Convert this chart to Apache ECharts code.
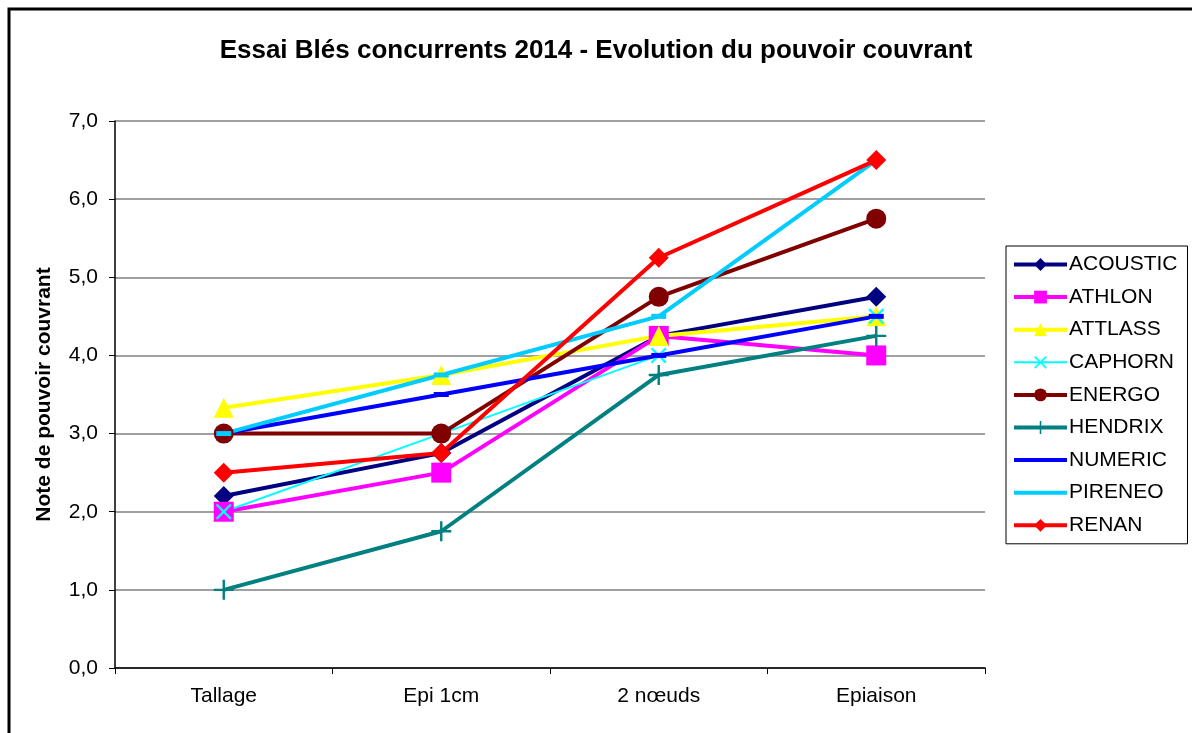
<!DOCTYPE html>
<html><head><meta charset="utf-8">
<script src="https://cdn.jsdelivr.net/npm/echarts@6/dist/echarts.min.js"></script>
<style>html,body{margin:0;padding:0;background:#fff}#c{width:1192px;height:733px}</style>
</head><body><div id="c"></div>
<script>
const categories = ['Tallage', 'Epi 1cm', '2 nœuds', 'Epiaison'];
const ACOUSTIC = [2.2, 2.75, 4.25, 4.75];
const ATHLON   = [2.0, 2.5, 4.25, 4.0];
const ATTLASS  = [3.33, 3.75, 4.25, 4.5];
const CAPHORN  = [2.0, 3.0, 4.0, 4.5];
const ENERGO   = [3.0, 3.0, 4.75, 5.75];
const HENDRIX  = [1.0, 1.75, 3.75, 4.25];
const NUMERIC  = [3.0, 3.5, 4.0, 4.5];
const PIRENEO  = [3.0, 3.75, 4.5, 6.5];
const RENAN    = [2.5, 2.75, 5.25, 6.5];
const yTicks = [0, 1, 2, 3, 4, 5, 6, 7];

const FONT = 'Arial, "Liberation Sans", sans-serif';
const X_PATH = 'path://M0,1 L1,0 L5,4 L9,0 L10,1 L6,5 L10,9 L9,10 L5,6 L1,10 L0,9 L4,5 Z';
const PLUS_PATH = 'path://M4.4,0 H5.6 V4.4 H10 V5.6 H5.6 V10 H4.4 V5.6 H0 V4.4 H4.4 Z';

const defs = [
  {name:'ACOUSTIC', data:ACOUSTIC, color:'#000080', symbol:'diamond', size:20, w:4},
  {name:'ATHLON', data:ATHLON, color:'#FF00FF', symbol:'rect', size:20, w:4},
  {name:'ATTLASS', data:ATTLASS, color:'#FFFF00', symbol:'triangle', size:20, w:4},
  {name:'CAPHORN', data:CAPHORN, color:'#00FFFF', symbol:X_PATH, size:16, w:2},
  {name:'ENERGO', data:ENERGO, color:'#800000', symbol:'circle', size:20, w:4},
  {name:'HENDRIX', data:HENDRIX, color:'#008080', symbol:PLUS_PATH, size:20, w:4},
  {name:'NUMERIC', data:NUMERIC, color:'#0000FF', symbol:'rect', size:[15,5], w:4, hideLegendSymbol:true},
  {name:'PIRENEO', data:PIRENEO, color:'#00CCFF', symbol:'rect', size:[15,5], w:4, hideLegendSymbol:true},
  {name:'RENAN', data:RENAN, color:'#FF0000', symbol:'diamond', size:20, w:4}
];

const chart = echarts.init(document.getElementById('c'), null, {renderer:'canvas'});
chart.setOption({
  animation:false,
  backgroundColor:'#fff',
  textStyle:{fontFamily:FONT},
  title:{
    text:'Essai Blés concurrents 2014 - Evolution du pouvoir couvrant',
    left:'center', top:33,
    textStyle:{fontFamily:FONT, fontSize:26, fontWeight:'bold', color:'#000'}
  },
  graphic:[{type:'rect', shape:{x:9, y:9, width:1300, height:900},
    style:{fill:null, stroke:'#000', lineWidth:3}, silent:true, z:-1}],
  legend:{
    orient:'vertical', left:1006, top:246,
    padding:[8, 10, 8, 6],
    borderColor:'#000', borderWidth:1,
    itemWidth:53, itemHeight:16, itemGap:11.6,
    lineStyle:{width:'inherit'},
    textStyle:{fontFamily:FONT, fontSize:21, color:'#000', padding:[0,0,0,-3]},
    data:defs.map(d=>d.hideLegendSymbol ? {name:d.name, itemStyle:{opacity:0}} : {name:d.name})
  },
  grid:{left:115, top:121, width:870, height:547, containLabel:false},
  xAxis:{
    type:'category', data:categories, boundaryGap:true,
    axisLine:{lineStyle:{color:'#000', width:1.5}},
    axisTick:{show:true, length:6, inside:false, lineStyle:{color:'#000'}},
    axisLabel:{fontFamily:FONT, fontSize:21, color:'#000', margin:18},
    splitLine:{show:false}
  },
  yAxis:{
    type:'value', min:yTicks[0], max:yTicks[yTicks.length-1], interval:1,
    name:'Note de pouvoir couvrant', nameLocation:'middle', nameRotate:90, nameGap:60,
    nameTextStyle:{fontFamily:FONT, fontSize:21, fontWeight:'bold', color:'#000'},
    axisLine:{show:true, lineStyle:{color:'#000', width:1.5}},
    axisTick:{show:true, length:6, lineStyle:{color:'#000'}},
    axisLabel:{fontFamily:FONT, fontSize:21, color:'#000', margin:17,
      formatter:v=>v.toFixed(1).replace('.', ',')},
    splitLine:{show:true, lineStyle:{color:'#808080', width:1.5}}
  },
  series:defs.map(d=>({
    name:d.name, type:'line', data:d.data,
    symbol:d.symbol, symbolSize:d.size, showSymbol:true,
    color:d.color,
    lineStyle:{color:d.color, width:d.w},
    itemStyle:{color:d.color, borderColor:d.color, borderWidth:0},
    emphasis:{disabled:true}
  }))
});
</script></body></html>
